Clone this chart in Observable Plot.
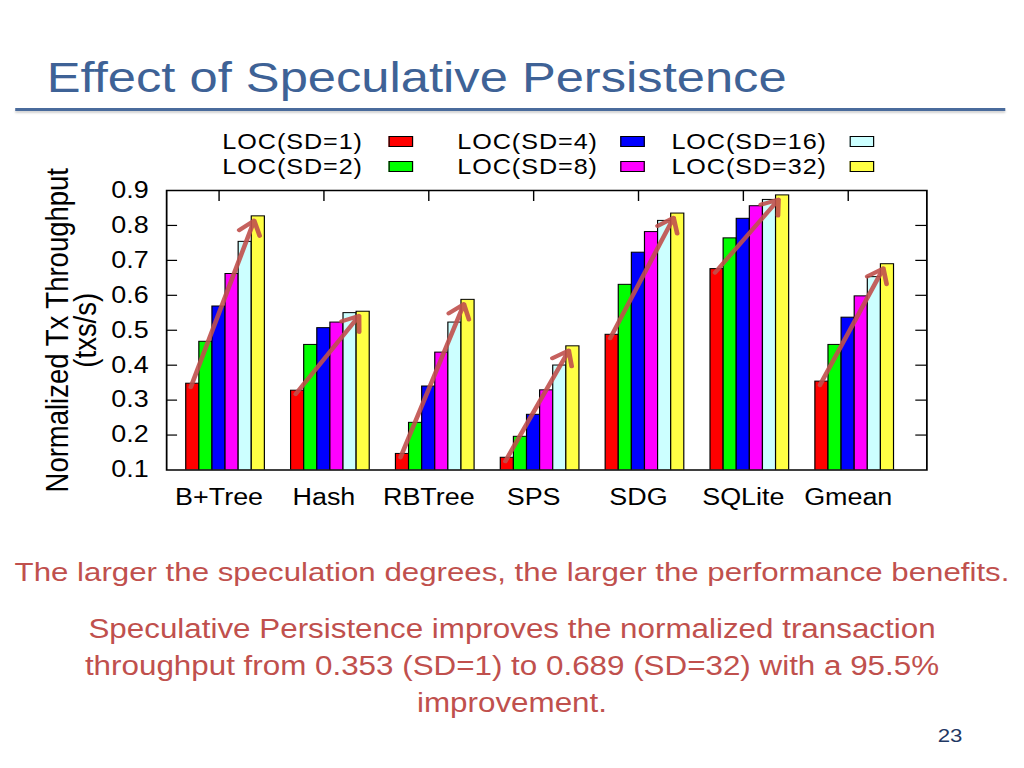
<!DOCTYPE html>
<html>
<head>
<meta charset="utf-8">
<script src="https://cdn.jsdelivr.net/npm/d3@7"></script>
<script src="https://cdn.jsdelivr.net/npm/@observablehq/plot@0.6"></script>
<style>
  html, body { margin: 0; padding: 0; background: #fff; width: 1024px; height: 768px; overflow: hidden; }
  #stage { position: absolute; left: 0; top: 0; width: 875px; height: 768px;
           transform: scaleX(1.17029); transform-origin: 0 0;
           font-family: "Liberation Sans", Arial, sans-serif; }
  .abs { position: absolute; white-space: nowrap; }
  #title { left: 40px; top: 55.6px; font-size: 43.3px; line-height: 43px; color: #3e6296; }
  #rule { left: 12.8px; width: 846px; top: 108px; height: 3px; background: #4a6b9c;
          box-shadow: 0 2px 2px rgba(0,0,0,0.18); }
  .legtext { font-size: 21.5px; line-height: 19px; letter-spacing: 0.8px; color: #000; text-align: right; width: 200px; }
  .swatch { height: 11px; width: 21px; box-sizing: border-box; border: 1px solid #000; }
  #chart { left: 0; top: 180px; }
  .cap { left: 0; width: 875px; text-align: center; color: #c0504d; }
  #cap1 { top: 558.8px; line-height: 27px; font-size: 26.7px; }
  #cap2 { top: 610.8px; line-height: 37px; font-size: 26.8px; }
  #pageno { left: 781.8px; width: 60px; text-align: center; top: 725.7px; font-size: 19px; line-height: 19px; color: #1f3864; }
</style>
</head>
<body>
<div id="stage">
  <div id="title" class="abs">Effect of Speculative Persistence</div>
  <div id="rule" class="abs"></div>
  <div id="legend"></div>
  <div id="chart" class="abs"></div>
  <div id="cap1" class="abs cap">The larger the speculation degrees, the larger the performance benefits.</div>
  <div id="cap2" class="abs cap">Speculative Persistence improves the normalized transaction<br>throughput from 0.353 (SD=1) to 0.689 (SD=32) with a 95.5%<br>improvement.</div>
  <div id="pageno" class="abs">23</div>
</div>
<script>
// ---- data ----
const groups = ["B+Tree", "Hash", "RBTree", "SPS", "SDG", "SQLite", "Gmean"];
const seriesNames = ["LOC(SD=1)", "LOC(SD=2)", "LOC(SD=4)", "LOC(SD=8)", "LOC(SD=16)", "LOC(SD=32)"];
const seriesColors = ["#ff0000", "#00ff00", "#0000ff", "#ff00ff", "#ccffff", "#ffff44"];
const sd1  = [0.347, 0.327, 0.146, 0.135, 0.487, 0.675, 0.353];
const sd2  = [0.467, 0.458, 0.235, 0.195, 0.630, 0.763, 0.458];
const sd4  = [0.568, 0.506, 0.339, 0.258, 0.722, 0.819, 0.536];
const sd8  = [0.661, 0.522, 0.436, 0.328, 0.781, 0.855, 0.597];
const sd16 = [0.753, 0.549, 0.522, 0.399, 0.813, 0.873, 0.652];
const sd32 = [0.826, 0.553, 0.587, 0.454, 0.834, 0.886, 0.689];
const yTicks = [0.1, 0.2, 0.3, 0.4, 0.5, 0.6, 0.7, 0.8, 0.9];
const yLabel1 = "Normalized Tx Throughput";
const yLabel2 = "(txs/s)";

const series = [sd1, sd2, sd4, sd8, sd16, sd32];

// ---- legend (HTML) ----
const legend = document.getElementById("legend");
const legTextRight = [309.3, 510.1, 705.8];
const legSwatchLeft = [331.5, 529.8, 726.3];
const legRowY = [141.5, 166.5];
seriesNames.forEach((name, k) => {
  const col = Math.floor(k / 2), row = k % 2;
  const t = document.createElement("div");
  t.className = "abs legtext";
  t.textContent = name;
  t.style.left = (legTextRight[col] - 200 + 0.8) + "px";
  t.style.top = (legRowY[row] - 8.8) + "px";
  legend.appendChild(t);
  const s = document.createElement("div");
  s.className = "abs swatch";
  s.style.left = legSwatchLeft[col] + "px";
  s.style.top = (legRowY[row] - 5.5) + "px";
  s.style.background = seriesColors[k];
  legend.appendChild(s);
});

// ---- bars table ----
const nS = series.length;
const barW = 1 / (nS + 2);
const bars = [];
groups.forEach((g, i) => {
  series.forEach((vals, j) => {
    const x1 = i - (nS / 2 - 0.5) * barW + j * barW;
    bars.push({group: g, gi: i, sj: j, value: vals[i], x1, x2: x1 + barW});
  });
});

const W = 875, H = 330;
const mL = 141.9, mR = 83.5, mT = 10, mB = 40.5;
const frameW = W - mL - mR, frameH = H - mT - mB;
const gIdx = d3.range(groups.length);

const chart = Plot.plot({
  width: W,
  height: H,
  marginLeft: mL,
  marginRight: mR,
  marginTop: mT,
  marginBottom: mB,
  x: {domain: [-0.5, 6.75]},
  y: {domain: [0.1, 0.9]},
  style: {fontFamily: "Liberation Sans, Arial, sans-serif", fontSize: "23px", color: "#000", background: "none", overflow: "visible"},
  marks: [
    Plot.rect(bars, {x1: "x1", x2: "x2", y1: 0, y2: "value", fill: d => seriesColors[d.sj], stroke: "#000", strokeWidth: 1, clip: true}),
    Plot.arrow(gIdx, {
      x1: i => i - 0.27, y1: i => sd1[i] - 0.01,
      x2: i => i + 0.335, y2: i => sd32[i] - 0.012,
      stroke: "#c0504d", strokeWidth: 4, strokeOpacity: 0.9, headLength: 6, headAngle: 70
    }),
    Plot.tickY(yTicks.slice(1, -1), {y: d => d, insetRight: frameW - 9.4, stroke: "#000", strokeWidth: 1.2}),
    Plot.tickY(yTicks.slice(1, -1), {y: d => d, insetLeft: frameW - 9.4, stroke: "#000", strokeWidth: 1.2}),
    Plot.tickX(gIdx, {x: d => d, insetBottom: frameH - 11, stroke: "#000", strokeWidth: 1.2}),
    Plot.frame({stroke: "#000", strokeWidth: 1.5}),
    Plot.axisX(gIdx, {tickFormat: i => groups[i], tickSize: 0, tickPadding: 19, fontSize: 23, label: null}),
    Plot.axisY(yTicks, {tickFormat: d3.format(".1f"), tickSize: 0, tickPadding: 15.4, fontSize: 23, label: null}),
    Plot.text([yLabel1], {text: d => d, frameAnchor: "left", textAnchor: "middle", dx: -93, rotate: -90, fontSize: 27.5}),
    Plot.text([yLabel2], {text: d => d, frameAnchor: "left", textAnchor: "middle", dx: -69, rotate: -90, fontSize: 27.5})
  ]
});
document.getElementById("chart").appendChild(chart);
</script>
</body>
</html>
